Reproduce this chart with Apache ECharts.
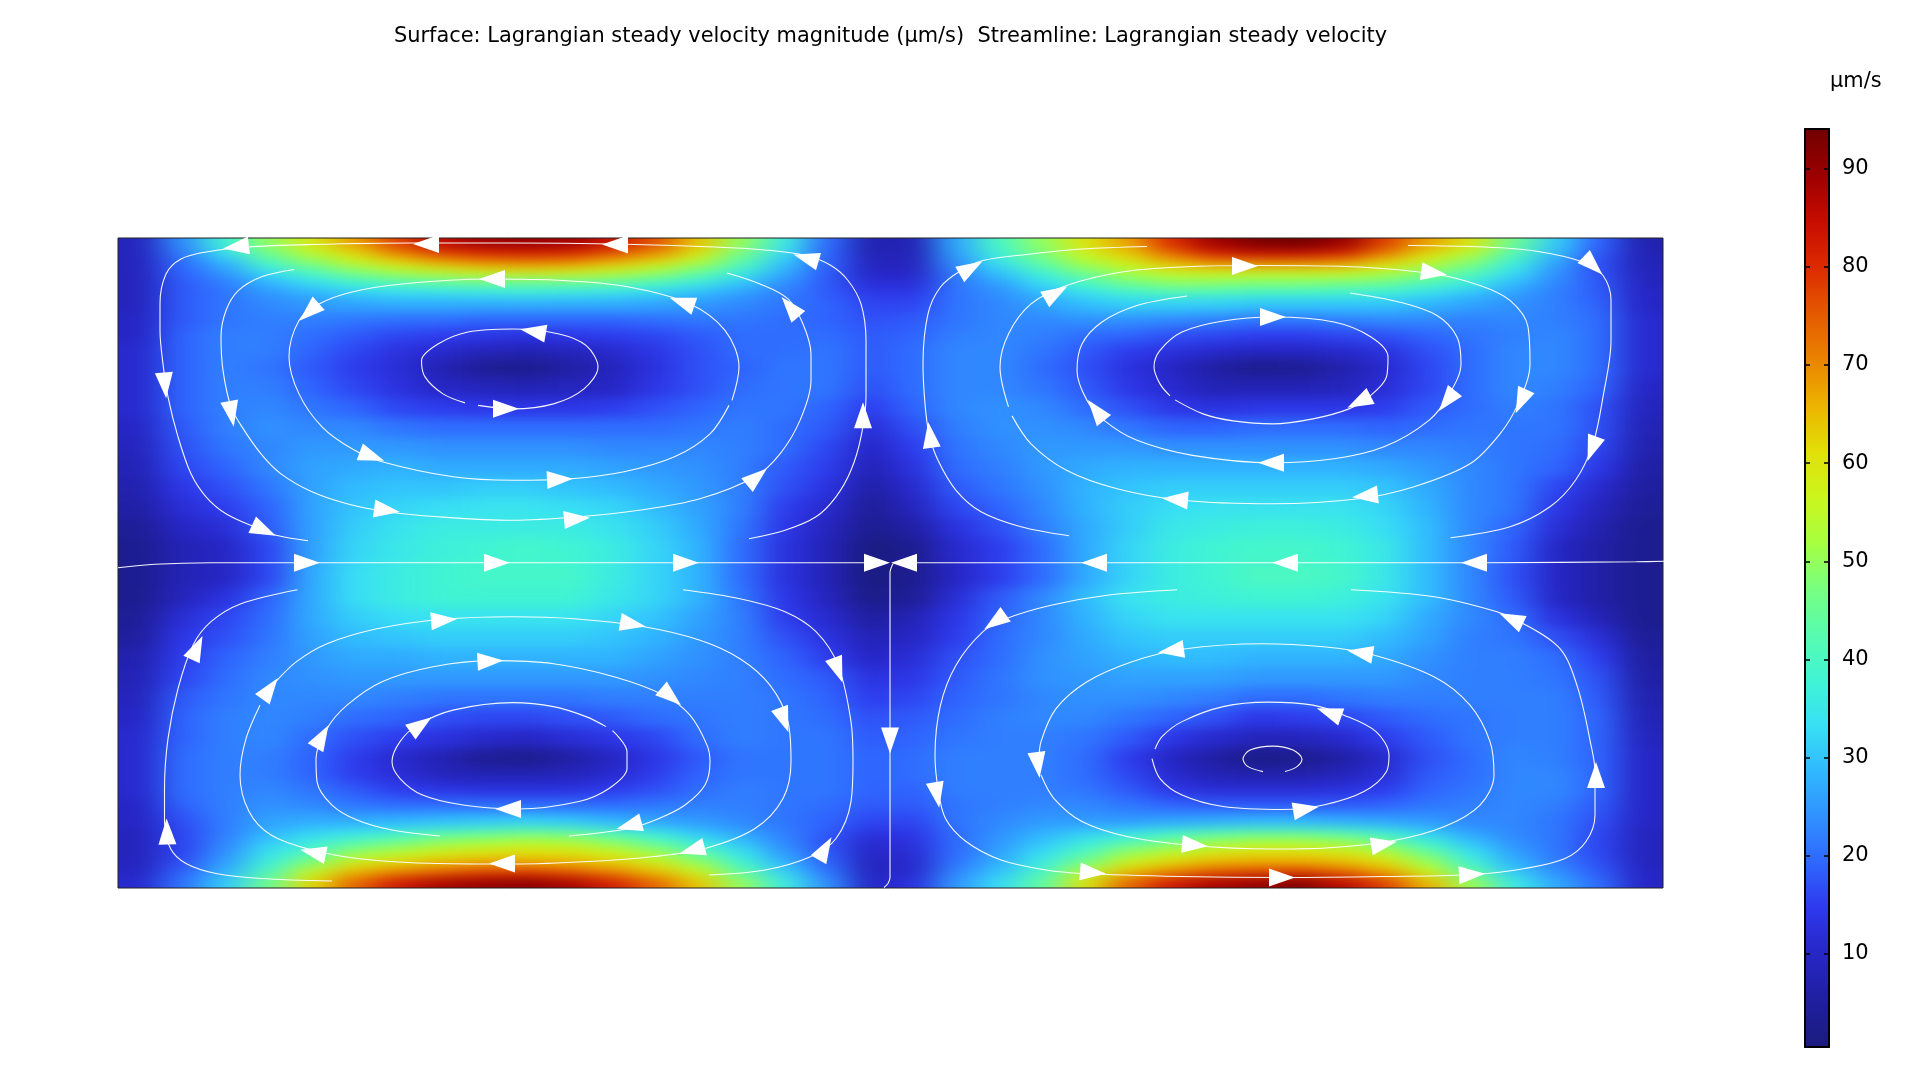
<!DOCTYPE html>
<html>
<head>
<meta charset="utf-8">
<title>Lagrangian steady velocity</title>
<style>html,body{margin:0;padding:0;background:#fff}#c{width:1920px;height:1080px}</style>
<script src="https://cdn.jsdelivr.net/npm/echarts@6/dist/echarts.min.js"></script>
</head>
<body>
<svg width="0" height="0" style="position:absolute"><filter id="soft" x="0" y="0" width="100%" height="100%" color-interpolation-filters="sRGB"><feGaussianBlur stdDeviation="16 6"/></filter></svg>
<div id="c"></div>
<script>
const titleText = 'Surface: Lagrangian steady velocity magnitude (µm/s)  Streamline: Lagrangian steady velocity';
const unitText = 'µm/s';
const colorbarTicks = [10, 20, 30, 40, 50, 60, 70, 80, 90];
const valueMin = 0.53;
const valueMax = 94.04;
const colormap = ['#1b1b7e','#1f1fa0','#2626c4','#2e38ec','#2f66ff','#3090ff','#30b8ff','#38e0f4','#40f4d4','#58fcae','#78ff80','#a8ff40','#ccf51c','#e2de08','#ecb200','#ea8200','#e45800','#dc2a00','#c60c00','#9c0000','#700000'];

const colEdges = [0,43,86,129,172,215,258,301,344,387,430,473,516,559,602,645,688,731,774,817,860,903,946,989,1032,1074,1117,1160,1203,1246,1288,1331,1374,1417,1460,1502,1545];
const rowEdges = [0,10,20,30,40,50,60,75,90,105,120,140,160,180,200,220,240,260,280,300,325,350,370,390,410,430,450,470,490,510,530,545,560,575,590,600,610,620,630,640,650.5];

// magnitude, one list per column, top to bottom
const speedCols = [
[9,9,9,9,9,9,9,10,10,11,11,11,11,10,9,8,7,6,4,3,3,3,4,5,7,8,9,10,11,11,11,11,10,10,9,9,9,9,10,11],
[24,22,20,19,18,18,18,18,19,19,19,19,19,18,17,16,14,12,10,8,8,9,12,14,15,16,18,19,19,20,20,20,19,17,16,16,16,17,19,21],
[38,34,28,25,22,21,21,21,22,22,22,22,22,22,21,19,17,15,12,10,10,13,16,17,19,20,21,22,22,22,22,22,22,22,22,23,24,26,28,31],
[50,46,40,33,28,25,23,22,22,22,21,22,23,24,23,23,21,19,18,16,16,19,20,21,22,23,23,23,23,22,22,23,24,26,28,31,34,37,41,46],
[59,55,48,40,33,28,25,22,20,19,18,19,21,23,25,26,26,26,26,26,27,27,27,26,25,24,23,22,20,19,19,21,23,27,32,36,41,48,56,62],
[68,62,55,47,38,31,26,21,18,16,15,16,19,23,25,27,29,30,31,32,33,33,31,29,27,25,23,20,17,15,15,18,21,27,34,42,50,58,66,74],
[78,71,61,51,41,33,27,20,16,13,12,13,16,21,25,28,30,32,34,35,36,36,33,30,27,25,22,19,15,11,12,15,20,28,37,46,54,62,71,83],
[86,78,66,54,43,34,27,20,15,11,8,10,15,20,24,27,30,33,36,37,38,38,34,31,28,25,21,17,13,8,9,14,20,29,41,50,58,65,75,88],
[89,81,69,57,44,35,27,19,14,9,4,9,14,20,24,27,31,34,36,38,39,38,34,31,28,25,21,16,11,4,8,13,20,30,43,52,60,67,78,90],
[90,82,70,58,44,36,27,19,13,8,3,8,14,20,24,27,31,34,36,39,39,38,34,31,28,25,21,16,10,3,8,13,20,31,45,54,61,67,79,91],
[89,81,69,57,44,35,27,19,14,9,6,9,14,20,24,27,30,33,36,38,39,38,34,31,28,25,21,17,12,6,9,13,20,30,44,53,60,66,76,88],
[84,76,65,54,43,34,27,19,15,11,9,10,15,20,23,26,29,32,34,36,36,35,32,30,28,25,22,18,14,10,11,15,20,28,40,49,57,63,71,82],
[76,70,60,50,40,32,26,20,16,14,13,14,17,20,23,25,27,29,31,32,32,32,30,28,26,24,22,20,16,14,15,17,21,26,35,43,51,58,65,74],
[64,60,52,44,36,29,25,21,18,17,17,17,19,21,23,24,25,26,27,28,28,28,26,25,24,23,22,21,20,18,19,20,22,25,30,36,43,50,57,64],
[50,47,42,36,30,26,23,21,20,20,19,20,21,22,22,22,22,22,21,20,20,21,22,22,22,22,22,22,22,21,21,22,22,23,26,30,34,38,44,50],
[36,33,30,27,24,22,21,20,20,20,21,21,21,20,20,18,17,15,14,13,13,14,15,17,19,20,21,21,21,21,21,21,21,21,22,23,25,28,32,36],
[20,19,19,18,18,18,19,19,20,21,21,21,19,18,16,15,13,11,9,8,8,9,11,13,15,18,19,20,21,21,21,21,20,19,18,17,18,19,21,24],
[7,8,9,10,12,14,16,17,18,18,18,17,15,12,10,8,6,4,3,1,1,2,5,8,10,13,15,17,18,19,19,19,18,16,13,11,10,9,9,10],
[8,8,9,10,12,14,16,18,19,20,20,20,19,17,15,13,11,9,6,3,3,4,8,10,12,14,16,18,19,20,20,19,18,16,14,13,12,11,11,13],
[27,26,24,22,21,21,21,21,22,23,23,23,23,22,21,20,18,16,13,11,10,12,14,15,17,18,19,20,21,22,22,22,21,21,20,20,20,21,23,25],
[40,38,34,30,26,24,23,23,23,23,23,23,24,24,23,22,21,19,17,15,15,18,19,20,20,21,21,22,22,22,22,22,22,23,24,25,26,28,30,33],
[50,48,44,38,33,29,26,23,22,21,20,21,23,24,25,25,24,23,22,20,20,23,23,23,24,24,23,23,22,22,22,22,23,25,28,30,33,36,40,44],
[60,57,52,46,40,34,29,24,20,18,17,18,20,23,25,27,28,28,27,27,27,29,28,27,26,25,24,23,21,20,20,21,23,25,31,36,41,47,54,60],
[68,64,58,52,46,38,31,24,19,15,13,14,17,21,25,28,30,31,31,32,32,34,32,30,28,26,24,21,18,15,16,18,21,25,34,42,50,57,65,74],
[80,74,65,56,49,40,31,23,17,13,10,11,14,19,24,28,31,33,35,36,36,36,34,31,29,26,23,19,14,10,11,14,19,26,38,47,55,62,71,83],
[89,82,69,57,49,40,31,22,16,11,6,8,13,19,24,28,31,34,36,38,38,37,34,31,29,26,22,17,11,6,8,12,18,27,41,51,59,66,76,88],
[93,85,70,56,48,39,30,21,15,10,3,8,14,20,24,28,31,34,37,39,40,38,34,31,28,25,20,14,9,2,7,12,18,28,43,53,61,67,78,90],
[94,85,70,56,48,39,30,21,15,10,4,8,14,20,24,28,31,34,37,39,40,38,34,31,28,25,20,15,9,3,7,12,18,28,43,53,61,67,79,92],
[90,82,68,56,47,38,30,22,16,11,7,9,14,20,24,28,31,34,36,38,39,37,34,31,28,25,21,16,11,6,9,13,18,27,41,51,59,65,75,86],
[78,72,62,53,45,37,30,23,17,13,11,12,15,19,23,27,30,32,33,35,35,34,32,29,27,25,22,18,15,11,12,15,19,26,37,46,54,61,68,78],
[68,62,55,48,41,34,28,23,19,17,16,16,18,20,23,25,27,28,29,29,29,29,27,26,24,23,22,20,18,17,18,19,21,25,31,38,45,51,57,66],
[60,54,48,42,36,30,26,22,21,20,20,20,20,21,22,23,23,23,23,23,23,23,23,22,22,22,22,21,21,20,20,21,22,23,26,30,34,38,44,51],
[46,42,37,33,29,26,24,23,22,23,23,23,22,21,21,21,21,21,19,18,17,18,20,21,22,22,22,22,22,23,23,23,23,23,23,24,26,28,31,36],
[31,29,26,24,23,22,22,22,23,23,23,22,21,21,20,19,16,14,12,10,10,10,13,17,20,21,22,22,22,22,23,23,22,21,21,21,21,22,24,27],
[19,18,17,17,18,18,19,20,20,20,20,19,17,17,16,14,11,9,7,6,6,6,8,12,15,17,18,19,19,19,19,19,18,17,16,16,16,17,18,20],
[7,8,8,9,9,10,10,11,11,11,11,10,9,8,7,6,5,4,3,3,3,3,3,4,5,6,7,8,9,10,10,10,10,10,9,9,9,9,10,10]
];

// streamlines, in plot units from the top-left corner of the surface
const streamA = [[190,303],[158,297.5],[136,289],[108,276],[88,259],[73,236],[60,199],[50,159],[45,126],[42,92.5],[42,66],[48,36],[63,21],[88,14],[129,9],[194,6.5],[294,5],[395,5],[496,6],[597,9],[647,12],[688,17.5],[713,27.5],[730,42.5],[743,66],[748,102.5],[748,159],[743,199],[733,232.5],[718,259],[698,279],[667,292.5],[631,301]];
const streamB = [[176,31.5],[143,39],[120.5,52.5],[108,72.5],[103,99],[105,132.5],[113,169],[124,189],[143,216],[163,236],[194,254],[229,266],[269,274],[320,279],[395,282.5],[461,279],[521,272.5],[582,261],[637,239],[662,216],[682,182.5],[693,142.5],[693,116],[685,86],[670,61],[642,46],[609,35]];
const streamC = [[611,167.5],[592,196],[556.5,219],[506,234],[453,241],[395,242.5],[335,239],[264,224],[234,211],[204,189],[181,156],[171,119],[181,82.5],[201,66],[234,54],[284,46],[370,41],[446,42.5],[511,49],[572,66],[607,92.5],[621,129],[614,162.5]];
const streamD = [[360,167.5],[395,171],[435.5,166],[466,151],[480,129],[468,107.5],[441,96],[395,91],[350,94],[320,106],[303.5,122.5],[307,139],[325,156],[347,165]];
const streamE = [[0,330],[37,326.5],[93,325],[768,325]];
const streamF = [[775,325],[1367,325],[1518,324],[1546,323.5]];
const streamG = [[775,326],[772,335],[772,640],[770,646],[766,650]];
const streamH = [[1029,8.5],[964,11],[913,16],[865,22.5],[843,32.5],[822.5,49],[810,76],[805,126],[807,166],[811,196],[820,222.5],[838,252.5],[863,274],[903,289],[951,298]];
const streamI = [[1290,7.5],[1367,9],[1417,13],[1465,24],[1485,37.5],[1493,62.5],[1493,102.5],[1485,159],[1475,206],[1457.5,242.5],[1432,269],[1392,289],[1332.5,300]];
const streamJ = [[894,178],[913,206],[948.5,232.5],[999,251],[1064,262.5],[1155,266],[1241,261],[1296,249],[1352,226],[1382,196],[1400,166],[1412,126],[1410,89],[1392,62.5],[1362,47.5],[1316,36],[1241,29],[1140,27.5],[1064,29],[1004,34],[948.5,47.5],[913,66],[890.5,96],[882,129],[890.5,169]];
const streamK = [[1069,58],[1019,67.5],[984,84],[964,106],[959,132.5],[969,162.5],[986,182.5],[1019,202.5],[1074.5,217.5],[1155,225],[1216,221],[1266,209],[1311,182.5],[1331.5,156],[1343,126],[1339,99],[1319,77.5],[1281,64],[1232,55]];
const streamL = [[1057,162],[1085,176],[1115,183],[1155,186],[1195,181],[1231,171],[1251,159],[1268.5,139],[1270,119],[1253,99],[1216,84],[1155,79],[1105,83],[1064,94],[1042,112.5],[1036,129],[1042,146],[1052,158]];
const streamM = [[214,643.5],[143,641],[98,636],[68,626],[52.5,611],[46.5,584],[46.5,551],[50,501],[60,451],[75,407.5],[93,384],[123,366],[179.5,352]];
const streamN = [[565,352],[622,361],[667,374],[698,394],[720,427.5],[733,484],[735,524],[733,564],[718,601],[693,619],[647,632.5],[591,637.5]];
const streamO = [[142,467.5],[128,501],[122,537.5],[131,574],[153,597.5],[194,612.5],[244,621.5],[320,626],[395,626.5],[471,624],[536,619],[587,611],[637,591],[665,561],[673,524],[670,484],[652,447.5],[622,421],[582,402.5],[526,389],[456,381],[395,379],[325,381.5],[259,391],[209,406],[178.5,424],[156,446]];
const streamP = [[322,598.5],[274,592.5],[239,582.5],[214,567.5],[199,544],[198,521],[209,491],[229,467.5],[264,444],[315,429],[375,423],[435.5,426],[496,439],[546,457.5],[572,477.5],[589,507.5],[592,524],[587,547.5],[567,567.5],[541,581],[511,591],[451,598.5]];
const streamQ = [[494.5,493],[509,514],[509,531],[491,551],[461,564],[400,571.5],[345,567.5],[304.5,557.5],[282,541],[274,524],[282,504],[299.5,487.5],[335,472.5],[395,465],[435.5,469],[468,479],[488,489]];
const streamR = [[1059,352],[989,357.5],[933,367.5],[888,381],[865,394],[838,427.5],[822.5,467.5],[817,517.5],[820,551],[827.5,581],[848,604],[883,622.5],[928,632.5],[964,636],[1064,639],[1165,640],[1266,639],[1357,637],[1407,631],[1447,621],[1468,604],[1477,577.5],[1477,534],[1473,507.5],[1460,451],[1442,411],[1402,384],[1379,374],[1316,359],[1233,352]];
const streamS = [[923,537.5],[936,561],[964,584],[1009,599],[1074.5,608],[1155,611.5],[1216,610],[1276,603],[1326.5,589],[1362,567.5],[1376,537.5],[1372,504],[1352,467.5],[1316,439],[1251,416],[1205.5,409],[1145,406],[1064,411.5],[1014,424],[969,444],[938,471],[923,504],[921,524]];
const streamT = [[1034,521],[1042,541],[1064,557.5],[1105,569],[1165,572],[1205.5,567.5],[1246,554],[1268.5,534],[1271,517.5],[1258,494],[1226,477.5],[1195,467.5],[1150,464.5],[1105,469],[1064,484],[1044,499],[1037,511.5]];
const streamU = [[1145,534],[1130,529],[1125,521.5],[1132,512.5],[1155,508.5],[1175,512.5],[1184,521.5],[1179,529],[1167,534]];
const streamlines = [streamA,streamB,streamC,streamD,streamE,streamF,streamG,streamH,streamI,streamJ,streamK,streamL,streamM,streamN,streamO,streamP,streamQ,streamR,streamS,streamT,streamU];

// arrowheads: x, y, heading in degrees (0 = right, 90 = up)
const arrowsTopLeft = [[118,9,187],[308,6,180],[497,6.5,180],[688,20,164],[745,177.5,90],[47,147.5,275],[113.5,176,280],[146,292.5,335],[189,325,0],[379,325,0],[568,325,0],[759,325,0],[269,272.5,352],[459,281,5],[639,239,40],[672,69,130],[564,64,161],[374,41,180],[191,74,222],[254,218.5,340],[442,241.5,3],[415,93.5,170],[388,171,0]];
const arrowsTopRight = [[853,30,30],[1475,27.5,316],[1127,28,0],[1316,35,352],[938,55,30],[1155,79,0],[1329,163,232],[1403,163.5,246],[1474,211,250],[978,172.5,128],[1241,164,207],[1153,225,180],[1057,261.5,175],[1247,258,186],[812,197,98],[976,325,180],[1167,325,180],[1356,325,180],[786,325,180]];
const arrowsBottomLeft = [[79,410,65],[326,382.5,5],[515,386.5,350],[720,432.5,290],[666,482.5,290],[553,459,320],[372.5,423.5,3],[152,451,54],[204,499,60],[303,487,35],[390,571.5,180],[511,588,195],[574,612.5,195],[384,626,180],[195,615,168],[49,594,92],[707,611,60],[772,503,270]];
const arrowsBottomRight = [[877,384,215],[1393,381,155],[1053,413,188],[1242,415,170],[1211,475,160],[920,527.5,277],[819,557.5,280],[1478,537.5,90],[1188,571.5,10],[1077,607.5,355],[1266,606.5,10],[975,635,355],[1164,640,0],[1354,637,3]];
const arrowheads = arrowsTopLeft.concat(arrowsTopRight, arrowsBottomLeft, arrowsBottomRight);

const cells = [];
speedCols.forEach((col, i) => col.forEach((v, j) => cells.push([i, j, v])));

const chart = echarts.init(document.getElementById('c'), null, {renderer: 'canvas'});
chart.setOption({
  animation: false,
  textStyle: {fontFamily: 'DejaVu Sans'},
  title: [
    {text: titleText, left: 394, top: 26, padding: 0, textStyle: {fontFamily: 'DejaVu Sans', fontSize: 20.9, fontWeight: 'normal', color: '#000'}},
    {text: unitText, left: 1830, top: 71, padding: 0, textStyle: {fontFamily: 'DejaVu Sans', fontSize: 20.9, fontWeight: 'normal', color: '#000'}}
  ],
  grid: [
    {left: 118, top: 238, width: 1545, height: 650, show: true, borderColor: '#222', borderWidth: 1, backgroundColor: 'transparent'},
    {left: 1805, top: 129, width: 24, height: 918}
  ],
  xAxis: [
    {type: 'value', gridIndex: 0, min: 0, max: 1545, show: false},
    {type: 'value', gridIndex: 1, min: 0, max: 1, position: 'bottom', z: 10, axisLine: {show: true, onZero: false, lineStyle: {color: '#000', width: 2}}, axisTick: {show: false}, axisLabel: {show: false}, splitLine: {show: false}},
    {type: 'value', gridIndex: 1, min: 0, max: 1, position: 'top', z: 10, axisLine: {show: true, onZero: false, lineStyle: {color: '#000', width: 2}}, axisTick: {show: false}, axisLabel: {show: false}, splitLine: {show: false}}
  ],
  yAxis: [
    {type: 'value', gridIndex: 0, min: 0, max: 650.5, inverse: true, show: false},
    {type: 'value', gridIndex: 1, min: valueMin, max: valueMax, position: 'right', z: 10,
      axisLine: {show: true, onZero: false, lineStyle: {color: '#000', width: 2}},
      axisTick: {show: true, inside: true, length: 5, customValues: colorbarTicks, lineStyle: {color: '#000', width: 1.5}},
      axisLabel: {show: true, customValues: colorbarTicks, margin: 13, padding: [7, 0, 0, 0], color: '#000', fontFamily: 'DejaVu Sans', fontSize: 21},
      splitLine: {show: false}},
    {type: 'value', gridIndex: 1, min: valueMin, max: valueMax, position: 'left', z: 10,
      axisLine: {show: true, onZero: false, lineStyle: {color: '#000', width: 2}},
      axisTick: {show: true, inside: true, length: 5, customValues: colorbarTicks, lineStyle: {color: '#000', width: 1.5}},
      axisLabel: {show: false}, splitLine: {show: false}}
  ],
  visualMap: {
    type: 'continuous', seriesIndex: 0, dimension: 2, min: valueMin, max: valueMax,
    left: 1805, top: 129, itemWidth: 24, itemHeight: 918, padding: 0,
    calculable: false, realtime: false, hoverLink: false, showLabel: false, text: null,
    inRange: {color: colormap}
  },
  series: [
    {
      type: 'custom', zlevel: -1, silent: true, progressive: 0, clip: false,
      xAxisIndex: 0, yAxisIndex: 0, data: cells,
      dimensions: ['col', 'row', 'speed'], encode: {x: 0, y: 1},
      renderItem(params, api) {
        const i = api.value(0), j = api.value(1);
        const pad = 60;
        const x0 = colEdges[i] - (i === 0 ? pad : 0);
        const x1 = colEdges[i + 1] + (i === colEdges.length - 2 ? pad : 0);
        const y0 = rowEdges[j] - (j === 0 ? pad : 0);
        const y1 = rowEdges[j + 1] + (j === rowEdges.length - 2 ? pad : 0);
        const a = api.coord([x0, y0]), b = api.coord([x1, y1]);
        return {type: 'rect', shape: {x: a[0], y: a[1], width: b[0] - a[0] + 1, height: b[1] - a[1] + 1}, style: {fill: api.visual('color')}};
      }
    },
    ...streamlines.map(s => ({
      type: 'line', xAxisIndex: 0, yAxisIndex: 0, data: s, smooth: 0.33, showSymbol: false, silent: true, clip: false, z: 5,
      lineStyle: {color: '#fff', width: 1.1, opacity: 0.95}
    })),
    {
      type: 'scatter', xAxisIndex: 0, yAxisIndex: 0, data: arrowheads, silent: true, clip: false, z: 6,
      symbol: 'triangle', symbolSize: [18, 26], symbolRotate: v => v[2] - 90,
      itemStyle: {color: '#fff', opacity: 1}
    }
  ]
});
const surfaceCanvas = chart.getDom().querySelectorAll('canvas')[0];
surfaceCanvas.style.filter = 'url(#soft)';
surfaceCanvas.style.clipPath = 'inset(238px 257px 192px 118px)';
</script>
</body>
</html>
